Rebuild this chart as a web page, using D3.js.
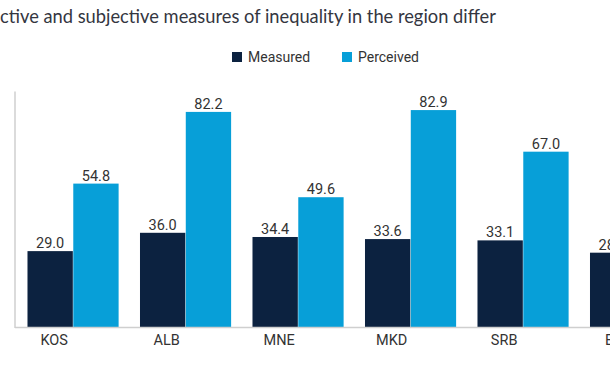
<!DOCTYPE html>
<html>
<head>
<meta charset="utf-8">
<script src="https://cdn.jsdelivr.net/npm/d3@7/dist/d3.min.js"></script>
<style>
  html, body { margin: 0; padding: 0; background: #fff; }
  svg { display: block; }
</style>
</head>
<body>
<div id="chart"></div>
<script>
const titleText = "ctive and subjective measures of inequality in the region differ";
const categories = ["KOS", "ALB", "MNE", "MKD", "SRB", "BIH"];
const seriesNames = ["Measured", "Perceived"];
const measured = [29.0, 36.0, 34.4, 33.6, 33.1, 28.4];
const perceived = [54.8, 82.2, 49.6, 82.9, 67.0, 63.0];
const colors = ["#0c2240", "#079fd8"];

const W = 610, H = 366;
const svg = d3.select("#chart").append("svg").attr("width", W).attr("height", H);

const axisX = 15, baseY = 327, topY = 91.5;
const x0 = d3.scaleBand().domain(categories).range([axisX, 693.6]).paddingInner(0.19).paddingOuter(0.111);
const x1 = d3.scaleBand().domain(seriesNames).range([0, x0.bandwidth()]).paddingInner(0.01);
const y = d3.scaleLinear().domain([0, 90]).range([baseY, topY]);

const rows = categories.map((c, i) => ({ cat: c, values: [measured[i], perceived[i]] }));

// title
svg.append("text").attr("x", 0).attr("y", 23)
  .attr("font-family", "Lato, 'Open Sans', sans-serif").attr("font-size", 18.3)
  .attr("fill", "#34363f").text(titleText);

// legend
const leg = svg.append("g").attr("font-family", "Roboto, 'Liberation Sans', sans-serif").attr("font-size", 14).attr("fill", "#333");
const legX = [232, 342];
seriesNames.forEach((s, i) => {
  leg.append("rect").attr("x", legX[i]).attr("y", 52).attr("width", 10).attr("height", 10).attr("fill", colors[i]);
  leg.append("text").attr("x", legX[i] + 16).attr("y", 62).text(s);
});

// bars
const g = svg.append("g");
const groups = g.selectAll("g.grp").data(rows).join("g").attr("class", "grp")
  .attr("transform", d => `translate(${x0(d.cat)},0)`);
groups.selectAll("rect").data(d => d.values.map((v, i) => ({ key: seriesNames[i], v, i })))
  .join("rect")
  .attr("x", d => x1(d.key)).attr("width", x1.bandwidth())
  .attr("y", d => y(d.v)).attr("height", d => baseY - y(d.v))
  .attr("fill", d => colors[d.i]);
groups.selectAll("text.val").data(d => d.values.map((v, i) => ({ key: seriesNames[i], v, i })))
  .join("text").attr("class", "val")
  .attr("x", d => x1(d.key) + x1.bandwidth() / 2).attr("y", d => y(d.v) - 3)
  .attr("text-anchor", "middle")
  .attr("font-family", "Roboto, 'Liberation Sans', sans-serif").attr("font-size", 14.5)
  .attr("fill", "#333").text(d => d.v.toFixed(1));

// axes lines
svg.append("line").attr("x1", axisX).attr("x2", axisX).attr("y1", topY).attr("y2", baseY + 1)
  .attr("stroke", "#cfcfcf").attr("stroke-width", 1.5);
svg.append("line").attr("x1", axisX).attr("x2", W + 100).attr("y1", baseY + 0.5).attr("y2", baseY + 0.5)
  .attr("stroke", "#cfcfcf").attr("stroke-width", 1.5);

// category labels
svg.append("g").selectAll("text").data(categories).join("text")
  .attr("x", c => x0(c) + x1.bandwidth() / 2 + 4).attr("y", 345)
  .attr("text-anchor", "middle")
  .attr("font-family", "Roboto, 'Liberation Sans', sans-serif").attr("font-size", 14.5)
  .attr("fill", "#333").text(c => c);
</script>
</body>
</html>
